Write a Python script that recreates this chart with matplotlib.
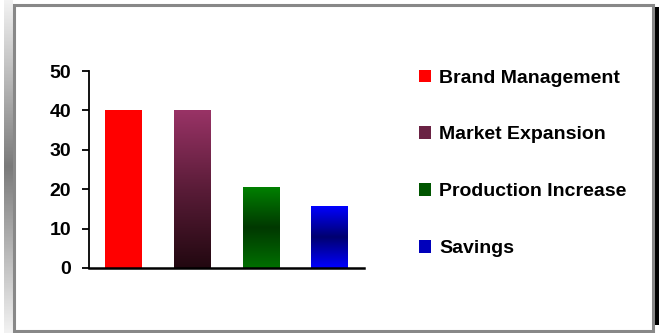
import matplotlib
matplotlib.use('Agg')
import numpy as np
import matplotlib.pyplot as plt
from matplotlib import font_manager
from matplotlib.colors import LinearSegmentedColormap
from matplotlib.patches import Patch, Rectangle

categories = ['Brand Management', 'Market Expansion', 'Production Increase', 'Savings']
values = [40, 40, 20.5, 15.5]
# gradient stops per bar, bottom -> top
gradients = [
    ['#ff0000', '#ff0000'],
    ['#220810', '#5a1c38', '#993366'],
    ['#007000', '#003800', '#008000'],
    ['#0000ff', '#000070', '#0000ff'],
]
legend_colors = ['#ff0000', '#6a2244', '#005500', '#0000bb']
yticks = [0, 10, 20, 30, 40, 50]

names = {f.name for f in font_manager.fontManager.ttflist}
font = 'Liberation Sans Narrow' if 'Liberation Sans Narrow' in names else 'Liberation Sans'
plt.rcParams['font.family'] = [font, 'DejaVu Sans']
plt.rcParams['font.weight'] = 'bold'

W, H = 662, 333
fig = plt.figure(figsize=(W / 100, H / 100), dpi=100)
fig.patch.set_facecolor('white')

# left gray shadow strip
sh = fig.add_axes([4 / W, 0, 9 / W, 1])
g = np.abs(np.linspace(-1, 1, 200))
sh.imshow(np.tile(g[:, None], (1, 2)), aspect='auto', cmap=LinearSegmentedColormap.from_list('s', ['#7a7a7a', '#f2f2f2']),
          vmin=0, vmax=1, extent=[0, 1, 0, 1])
sh.axis('off')

# right black shadow and frame
fig.patches.append(Rectangle((654 / W, 8 / H), 5 / W, 318 / H, transform=fig.transFigure,
                             facecolor='black', edgecolor='none', zorder=0))
fig.patches.append(Rectangle((13.5 / W, 2.5 / H), 639 / W, 326 / H, transform=fig.transFigure,
                             facecolor='white', edgecolor='#888888', linewidth=2.2, zorder=1))

ax = fig.add_axes([89 / W, (H - 268) / H, 275 / W, 197 / H])
ax.set_zorder(2)
bars = ax.bar(range(len(values)), values, width=0.53, color='none', edgecolor='none')
for b, stops in zip(bars, gradients):
    x0, y0, w, h = b.get_x(), b.get_y(), b.get_width(), b.get_height()
    cmap = LinearSegmentedColormap.from_list('g', stops)
    grad = np.linspace(0, 1, 256)[:, None]
    ax.imshow(grad, aspect='auto', cmap=cmap, origin='lower', extent=[x0, x0 + w, y0, y0 + h], zorder=1)

ax.set_xlim(-0.5, len(values) - 0.5)
ax.set_ylim(0, 50)
ax.set_yticks(yticks)
ax.set_xticks([])
ax.spines['top'].set_visible(False)
ax.spines['right'].set_visible(False)
ax.spines['left'].set_linewidth(1.3)
ax.spines['bottom'].set_linewidth(1.8)
ax.tick_params(axis='y', direction='out', length=5, width=1.3, labelsize=14, pad=8)
ax.patch.set_alpha(0)

handles = [Patch(facecolor=c, edgecolor='none') for c in legend_colors]
fig.legend(handles, categories, loc='upper left', bbox_to_anchor=(401 / W, (H - 52) / H),
           frameon=False, handlelength=0.62, handleheight=0.62, handletextpad=0.45,
           labelspacing=2.04, prop={'weight': 'bold', 'size': 14})

fig.savefig('out.png', dpi=100)
